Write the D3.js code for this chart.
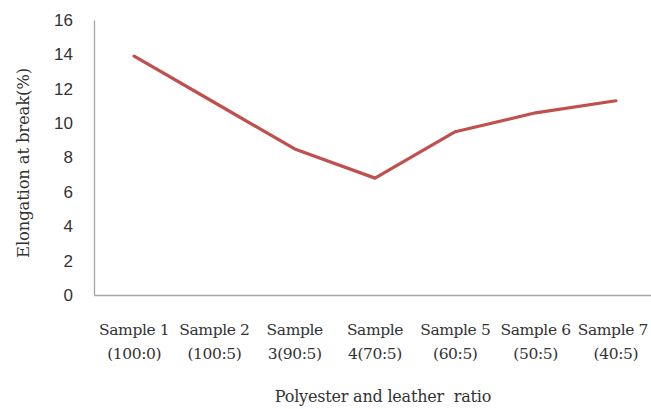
<!DOCTYPE html>
<html>
<head>
<meta charset="utf-8">
<script src="https://cdn.jsdelivr.net/npm/d3@7"></script>
<style>
  body { margin: 0; background: #fff; }
</style>
</head>
<body>
<div class="chart"></div>
<script>
// data
var categories = ["Sample 1", "Sample 2", "Sample 3", "Sample 4", "Sample 5", "Sample 6", "Sample 7"];
var labelLines = [
  ["Sample 1", "(100:0)"],
  ["Sample 2", "(100:5)"],
  ["Sample", "3(90:5)"],
  ["Sample", "4(70:5)"],
  ["Sample 5", "(60:5)"],
  ["Sample 6", "(50:5)"],
  ["Sample 7", "(40:5)"]
];
var elongation = [13.9, 11.2, 8.5, 6.8, 9.5, 10.6, 11.3];
var yTicks = [0, 2, 4, 6, 8, 10, 12, 14, 16];

var svgWidth = 651;
var svgHeight = 409;

var svg = d3.select(".chart")
  .append("svg")
  .attr("width", svgWidth)
  .attr("height", svgHeight);

var xScale = d3.scaleBand()
  .domain(categories)
  .range([94, 656]);

var yScale = d3.scaleLinear()
  .domain([0, 16])
  .range([295, 20]);

// y axis
var yAxis = svg.append("g")
  .attr("transform", "translate(94,0)")
  .call(d3.axisLeft(yScale).tickValues(yTicks).tickSize(0).tickPadding(21));

yAxis.select(".domain").attr("stroke", "#a6a6a6").attr("stroke-width", 1.3);
yAxis.selectAll("text")
  .style("font-family", "'Liberation Sans', Arial, sans-serif")
  .style("font-size", "17px")
  .attr("fill", "#333");

// x axis
var xAxis = svg.append("g")
  .attr("transform", "translate(0,295)")
  .call(d3.axisBottom(xScale).tickSize(0).tickFormat(""));

xAxis.select(".domain").attr("stroke", "#a6a6a6").attr("stroke-width", 1.3);

var catLabels = svg.append("g").selectAll("text")
  .data(categories)
  .enter()
  .append("text")
  .attr("x", (d, i) => xScale(d) + xScale.bandwidth() / 2 - (i === 6 ? 3 : 0))
  .attr("y", 335)
  .attr("text-anchor", "middle")
  .style("font-family", "'DejaVu Serif', 'Liberation Serif', serif")
  .style("font-size", "15.5px")
  .style("letter-spacing", "-0.4px")
  .attr("fill", "#333");

catLabels.append("tspan")
  .attr("x", (d, i) => xScale(d) + xScale.bandwidth() / 2 - (i === 6 ? 3 : 0))
  .text((d, i) => labelLines[i][0]);

catLabels.append("tspan")
  .attr("x", d => xScale(d) + xScale.bandwidth() / 2)
  .attr("dy", 24)
  .text((d, i) => labelLines[i][1]);

// line
var line = d3.line()
  .x((d, i) => xScale(categories[i]) + xScale.bandwidth() / 2)
  .y(d => yScale(d));

svg.append("path")
  .datum(elongation)
  .attr("d", line)
  .attr("fill", "none")
  .attr("stroke", "#c0504d")
  .attr("stroke-width", 3.2)
  .attr("stroke-linejoin", "round")
  .attr("stroke-linecap", "round");

// axis titles
svg.append("text")
  .attr("x", 383)
  .attr("y", 402)
  .attr("text-anchor", "middle")
  .style("font-family", "'DejaVu Serif', 'Liberation Serif', serif")
  .style("font-size", "16px")
  .style("letter-spacing", "-0.2px")
  .style("white-space", "pre")
  .attr("fill", "#333")
  .text("Polyester and leather  ratio");

svg.append("text")
  .attr("transform", "translate(29,163) rotate(-90)")
  .attr("text-anchor", "middle")
  .style("font-family", "'DejaVu Serif', 'Liberation Serif', serif")
  .style("font-size", "16.5px")
  .style("letter-spacing", "-0.2px")
  .attr("fill", "#333")
  .text("Elongation at break(%)");
</script>
</body>
</html>
